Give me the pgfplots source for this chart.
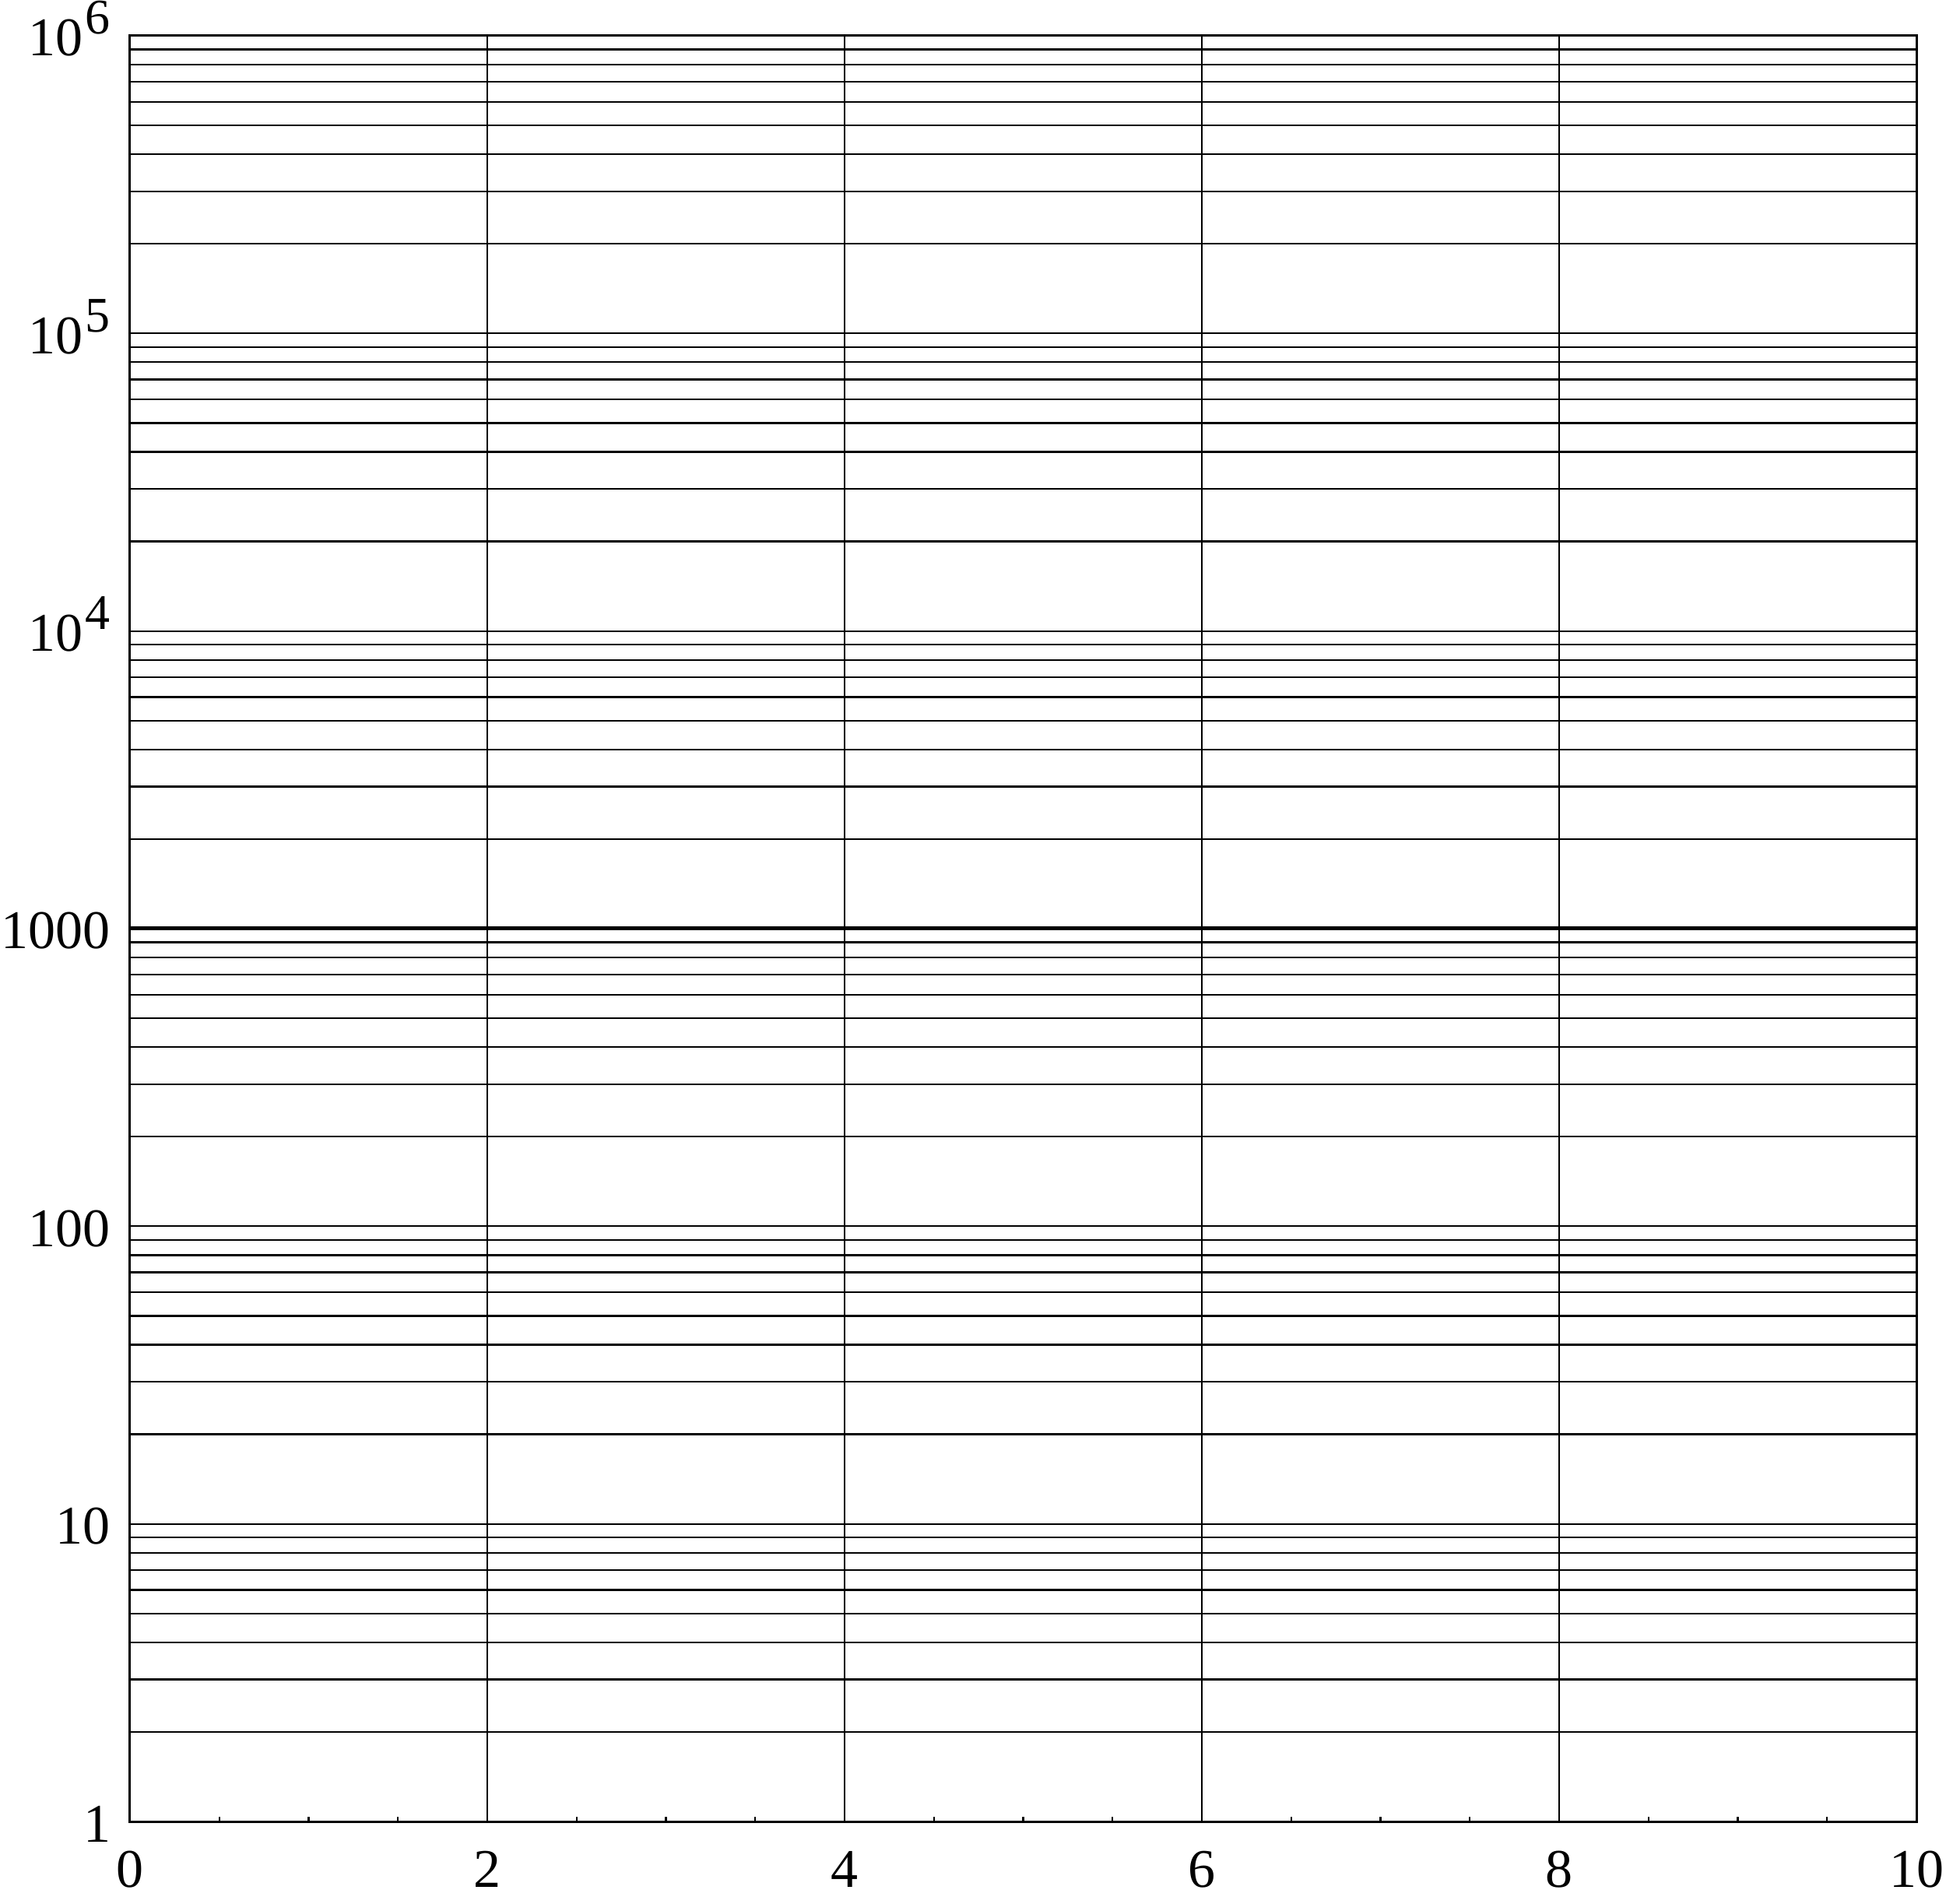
\documentclass[border=0pt]{standalone}
\usepackage{fontspec}
\setmainfont{Liberation Serif}
\usepackage{pgfplots}
\pgfplotsset{compat=1.18}

% power-of-ten label with a large, smashed exponent
\newcommand{\ex}[1]{10\kern0.6pt\smash{\raisebox{5.6pt}{\fontsize{12.8}{14}\selectfont #1}}}

\begin{document}
\fontsize{14}{17}\selectfont
\begin{tikzpicture}
\begin{axis}[
  scale only axis,
  width=459pt,
  height=458.8pt,
  xmin=0, xmax=10,
  ymode=log,
  ymin=1, ymax=1e6,
  log basis y=10,
  xtick={0,2,4,6,8,10},
  minor x tick num=3,
  ytick={1,10,100,10000,100000,1000000},
  yticklabels={1,10,100,{\ex{4}},{\ex{5}},{\ex{6}}},
  minor ytick={2,3,4,5,6,7,8,9,
    20,30,40,50,60,70,80,90,
    200,300,400,500,600,700,800,900,
    2000,3000,4000,5000,6000,7000,8000,9000,
    20000,30000,40000,50000,60000,70000,80000,90000,
    200000,300000,400000,500000,600000,700000,800000,900000},
  xmajorgrids, ymajorgrids, yminorgrids,
  grid style={black, line width=0.45pt},
  minor grid style={black, line width=0.45pt},
  axis line style={black, line width=0.6pt},
  tick align=inside,
  xtick pos=bottom, ytick pos=left,
  major tick length=0pt,
  minor tick length=1.2pt,
  minor y tick style={draw=none},
  tick style={black, line width=0.45pt},
  extra y ticks={1000},
  extra y tick labels={1000},
  extra y tick style={grid style={black, line width=1pt}},
  tick label style={font=\fontsize{14}{17}\selectfont},
  /pgf/number format/assume math mode=true,
  yticklabel style={inner sep=0pt, xshift=-4.8pt, yshift=-0.6pt},
  xticklabel style={inner sep=0pt, yshift=-7.4pt},
]
\end{axis}
% page frame as in the reference
\path ([xshift=-33.4pt, yshift=-21.2pt]current axis.south west)
  rectangle ([xshift=7.6pt, yshift=9.2pt]current axis.north east);
\end{tikzpicture}
\end{document}
